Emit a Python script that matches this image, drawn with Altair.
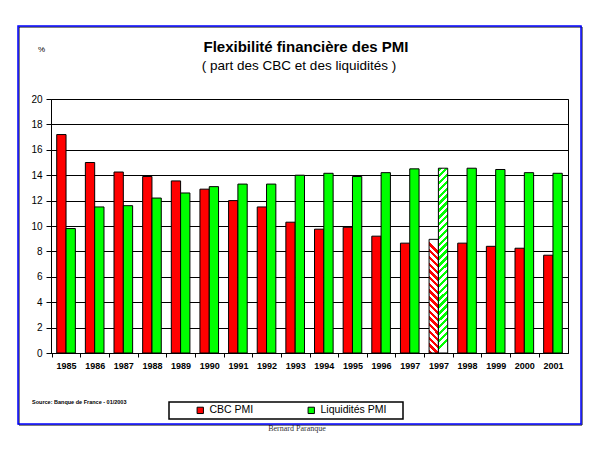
import altair as alt
import pandas as pd

# ---- data ----
categories = ["1985", "1986", "1987", "1988", "1989", "1990", "1991", "1992", "1993",
              "1994", "1995", "1996", "1997", "1997b", "1998", "1999", "2000", "2001"]
cbc = [17.2, 15.0, 14.25, 13.9, 13.55, 12.9, 12.0, 11.5, 10.3,
       9.75, 9.9, 9.2, 8.65, 8.95, 8.65, 8.4, 8.25, 7.7]
liq = [9.8, 11.5, 11.6, 12.2, 12.6, 13.1, 13.3, 13.3, 14.0,
       14.15, 13.9, 14.2, 14.5, 14.55, 14.55, 14.45, 14.2, 14.15]
hatched = ["1997b"]
series = ["CBC PMI", "Liquidités PMI"]
colors = ["#ff0000", "#00ff00"]

title_text = "Flexibilité financière des PMI"
subtitle_text = "( part des CBC et des liquidités )"
source_text = "Source: Banque de France - 01/2003"
author_text = "Bernard Paranque"

rows = []
for c, a, b in zip(categories, cbc, liq):
    rows.append({"cat": c, "serie": series[0], "val": a, "hatch": c in hatched})
    rows.append({"cat": c, "serie": series[1], "val": b, "hatch": c in hatched})
df = pd.DataFrame(rows)

W, H = 517, 254
FONT = "Liberation Sans"


def stripes(color, n, x1, y1, x2, y2):
    stops = []
    for i in range(n):
        o0 = i / n
        o1 = (i + 0.5) / n
        o2 = (i + 1) / n
        stops += [{"offset": o0, "color": color}, {"offset": o1, "color": color},
                  {"offset": o1, "color": "white"}, {"offset": o2, "color": "white"}]
    return {"gradient": "linear", "x1": x1, "y1": y1, "x2": x2, "y2": y2, "stops": stops}


red_hatch = stripes("#ff0000", 17, 0, 1, 0.082, 0)
green_hatch = stripes("#00ff00", 27, 0, 0, 0.05, 1)

xscale = alt.Scale(domain=categories, paddingInner=0.35, paddingOuter=0.2)
offscale = alt.Scale(domain=series)
yscale = alt.Scale(domain=[0, 20], nice=False)

x_enc = alt.X("cat:N", scale=xscale, sort=categories,
              axis=alt.Axis(title=None, labelAngle=0, labelExpr="substring(datum.label, 0, 4)",
                            labelFont=FONT, labelFontSize=9, labelFontWeight="bold",
                            labelColor="black", tickOffset=-14.32, labelOffset=14.32,
                            tickSize=4, tickColor="black", domainColor="black",
                            labelPadding=4, grid=False))
y_enc = alt.Y("val:Q", scale=yscale,
              axis=alt.Axis(values=list(range(0, 21, 2)), title="%", titleAngle=0,
                            titleX=-10, titleY=-46, titleFontSize=8, titleFont=FONT,
                            titleFontWeight="normal", labelFont=FONT, labelFontSize=10,
                            labelColor="black", tickSize=5, tickColor="black",
                            domainColor="black", grid=True, gridColor="black",
                            gridOpacity=1, labelPadding=4))
xo = alt.XOffset("serie:N", scale=offscale, sort=series)

base = alt.Chart(df)

bars = base.transform_filter("!datum.hatch").mark_bar(stroke="black", strokeWidth=1).encode(
    x=x_enc, y=y_enc, xOffset=xo,
    color=alt.Color("serie:N", scale=alt.Scale(domain=series, range=colors),
                    legend=alt.Legend(title=None, orient="none", legendX=144, legendY=306,
                                      direction="horizontal", symbolType="square",
                                      symbolSize=40, symbolStrokeColor="black",
                                      symbolStrokeWidth=1, labelFont=FONT, labelFontSize=10.5,
                                      labelColor="black", columnPadding=52, padding=0,
                                      labelOffset=4)),
)

hatch_red = base.transform_filter(
    "datum.hatch && datum.serie == 'CBC PMI'").mark_bar(stroke="black", strokeWidth=1).encode(
    x=x_enc, y=y_enc, xOffset=xo, color=alt.value(red_hatch))
hatch_green = base.transform_filter(
    "datum.hatch && datum.serie == 'Liquidités PMI'").mark_bar(stroke="black", strokeWidth=1).encode(
    x=x_enc, y=y_enc, xOffset=xo, color=alt.value(green_hatch))

txt = pd.DataFrame({"t": [title_text]})
title = alt.Chart(txt).mark_text(font=FONT, fontSize=15, fontWeight="bold", color="black").encode(
    text="t:N", x=alt.value(255), y=alt.value(-52))
txt2 = pd.DataFrame({"t": [subtitle_text]})
subtitle = alt.Chart(txt2).mark_text(font=FONT, fontSize=13.5, color="black").encode(
    text="t:N", x=alt.value(248), y=alt.value(-33))
txt3 = pd.DataFrame({"t": [source_text]})
source = alt.Chart(txt3).mark_text(font=FONT, fontSize=5.5, fontWeight="bold", align="left",
                                   color="black").encode(
    text="t:N", x=alt.value(-19), y=alt.value(303))
txt4 = pd.DataFrame({"t": [author_text]})
author = alt.Chart(txt4).mark_text(font="Liberation Serif", fontSize=8, color="#333333").encode(
    text="t:N", x=alt.value(246), y=alt.value(330))

box_df = pd.DataFrame({"k": [1]})
legend_box = alt.Chart(box_df).mark_rect(filled=False, stroke="black", strokeWidth=1.5).encode(
    x=alt.value(118), x2=alt.value(352), y=alt.value(303), y2=alt.value(320))
shadow = alt.Chart(box_df).mark_rect(filled=False, stroke="black", strokeWidth=1).encode(
    x=alt.value(-32), x2=alt.value(531), y=alt.value(-72), y2=alt.value(326))
frame = alt.Chart(box_df).mark_rect(filled=False, stroke="#0000ff", strokeWidth=1.5).encode(
    x=alt.value(-33), x2=alt.value(530), y=alt.value(-73), y2=alt.value(325))

chart = alt.layer(
    legend_box, bars, hatch_red, hatch_green, title, subtitle, source, author, shadow, frame
).properties(
    width=W, height=H,
    autosize=alt.AutoSizeParams(type="none"),
    padding={"left": 43, "top": 91, "right": 24, "bottom": 88},
    background="white",
).configure_view(stroke="black", strokeWidth=1).configure_axis(domainWidth=1)

chart.save("out.html", embed_options={"renderer": "svg", "actions": False})
